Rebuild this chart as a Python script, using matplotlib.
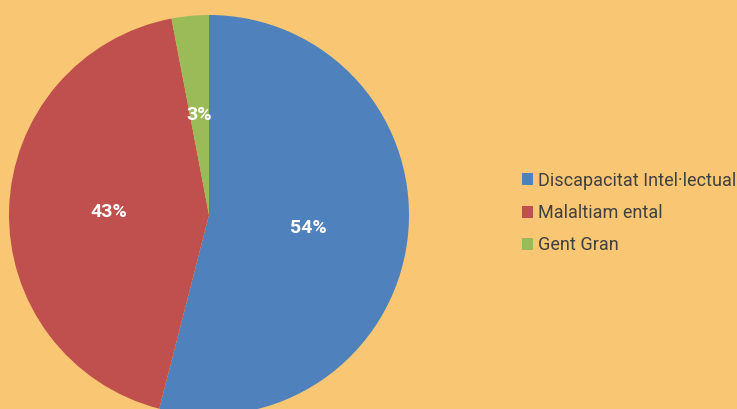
import matplotlib
matplotlib.use("Agg")
import matplotlib.pyplot as plt
from matplotlib.patches import Patch

plt.rcParams['font.family'] = ['Roboto', 'DejaVu Sans']

categories = ["Discapacitat Intel·lectual", "Malaltiam ental", "Gent Gran"]
values = [54, 43, 3]
colors = ["#4F81BD", "#C0504D", "#9BBB59"]
bg = "#F9C773"

fig = plt.figure(figsize=(7.37, 4.09), dpi=100, facecolor=bg)
ax = fig.add_axes([9/737, -6/409, 400/737, 400/409])
ax.set_facecolor(bg)
wedges, texts, autotexts = ax.pie(values, colors=colors, startangle=90, counterclock=False,
                                  autopct='%1.0f%%', pctdistance=0.5,
                                  wedgeprops=dict(linewidth=0),
                                  textprops=dict(color='white', fontsize=14, fontweight='bold'))
ax.set_xlim(-1, 1)
ax.set_ylim(-1, 1)
ax.set_aspect('equal')
ax.axis('off')

handles = [Patch(facecolor=c, edgecolor='none') for c in colors]
fig.legend(handles, categories, loc='center left', bbox_to_anchor=(506/737, 1 - 213/409),
           frameon=False, fontsize=13, handlelength=0.6, handleheight=0.65,
           handletextpad=0.25, labelspacing=0.8, labelcolor='#404040')

fig.savefig("out.png", dpi=100, facecolor=bg)
